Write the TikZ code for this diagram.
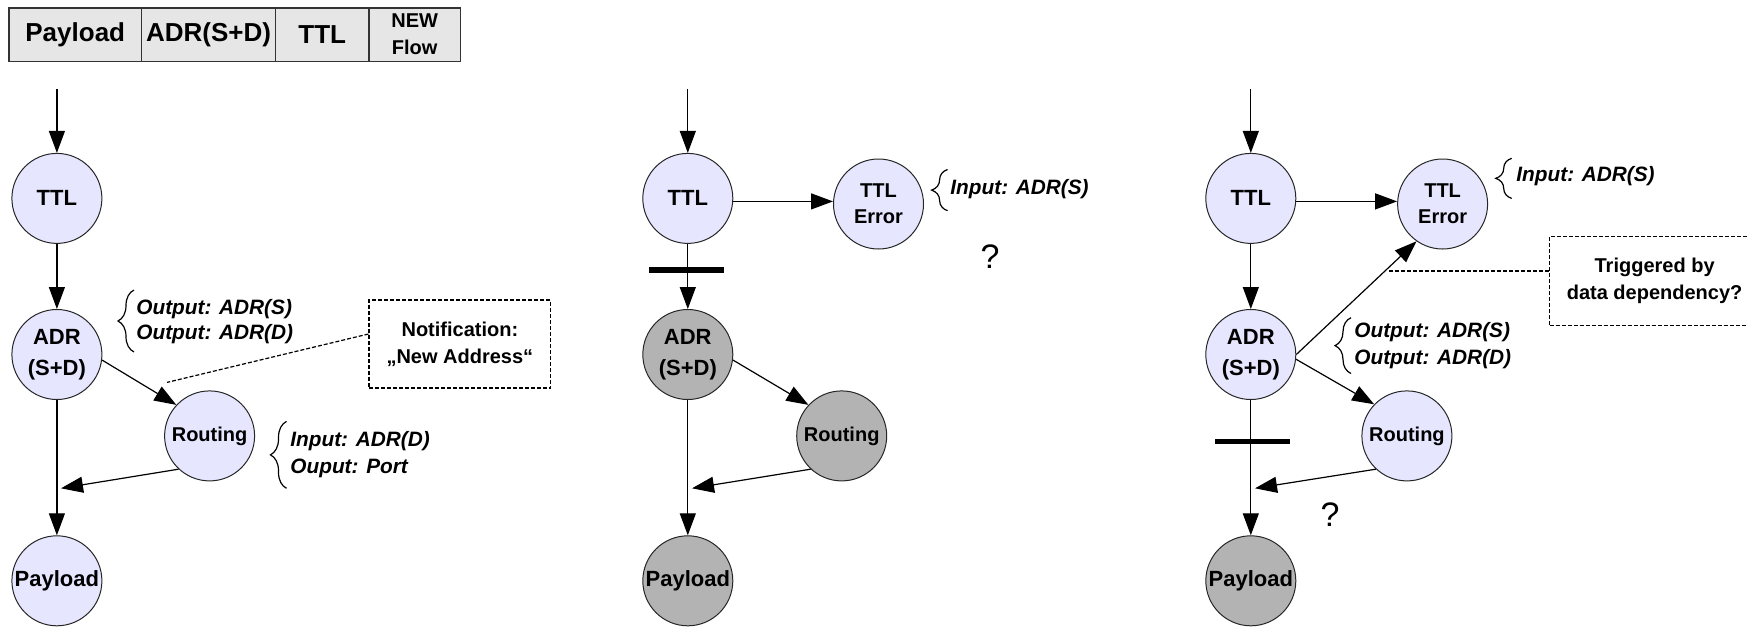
\documentclass[tikz,border=0pt]{standalone}
\usepackage{fontspec}
\setmainfont{Liberation Sans}
\usetikzlibrary{arrows.meta,decorations.pathreplacing}

\definecolor{stagefill}{RGB}{230,230,255}
\definecolor{stagegray}{RGB}{179,179,179}
\definecolor{headfill}{RGB}{230,230,230}

\tikzset{
  stage/.style={circle, draw=black!85, line width=0.5pt, fill=stagefill, minimum size=45pt, inner sep=0pt, align=center, font=\bfseries\fontsize{11}{15.5}\selectfont},
  stagedone/.style={stage, fill=stagegray},
  stagesmall/.style={font=\bfseries\fontsize{10}{13}\selectfont},
  stagepay/.style={font=\bfseries\fontsize{11}{13}\selectfont},
  flowarrow/.style={-{Triangle[length=11pt,width=8pt]}, line width=0.6pt},
  hintline/.style={dash pattern=on 2pt off 1pt, line width=0.6pt},
  notebox/.style={draw, hintline, align=center, inner sep=0pt, font=\bfseries\fontsize{10}{13.4}\selectfont},
  infotext/.style={anchor=west, align=left, inner sep=0pt, font=\bfseries\itshape\fontsize{10.4}{13.4}\selectfont},
  curlybrace/.style={decorate, decoration={brace, amplitude=8pt}, line width=0.6pt},
  cutbar/.style={line width=2.8pt},
  qmark/.style={font=\fontsize{17}{17}\selectfont},
  headcell/.style={rectangle, draw=black!80, fill=headfill, line width=0.75pt, minimum height=26.75pt, inner sep=0pt, outer sep=0pt, align=center, font=\bfseries\fontsize{13}{15}\selectfont}
}

\begin{document}
\begin{tikzpicture}[x=0.5pt,y=0.5pt,yscale=-1]
\useasboundingbox (0,0) rectangle (1748,627);
\clip (0,0) rectangle (1748,627);

% Header
\node[headcell, minimum width=66.35pt] (hPay) at (75.25,34.55) {Payload};
\node[headcell, minimum width=66.9pt] (hAdr) at (208.5,34.55) {ADR(S+D)};
\node[headcell, minimum width=46.8pt] (hTtl) at (322.2,34.55) {TTL};
\node[headcell, minimum width=45.7pt, font=\bfseries\fontsize{10}{13.4}\selectfont] (hNew) at (414.7,34.55) {NEW\\Flow};

% Left: normal flow
\coordinate (inL) at (56.9,89);
\node[stage] (ttlL) at (56.9,198.4) {TTL};
\node[stage] (adrL) at (56.9,354.5) {ADR\\(S+D)};
\node[stage, stagesmall] (routL) at (209.6,435.9) {Routing};
\node[stage, stagepay] (payL) at (56.9,580.8) {Payload};
\coordinate (joinL) at (61,488.3);
\coordinate (tipL) at (167,382.4);
\draw[flowarrow] (inL) -- (ttlL);
\draw[flowarrow] (ttlL) -- (adrL);
\draw[flowarrow] (adrL) -- (payL);
\draw[flowarrow] (adrL.-7) -- (routL.137);
\draw[flowarrow] (routL.-133) -- (joinL);
\draw[curlybrace] (134,352) -- (134,290);
\node[infotext, font=\bfseries\itshape\fontsize{10.4}{12.5}\selectfont] (outL) at (136,321.5) {Output: ADR(S)\\Output: ADR(D)};
\draw[curlybrace] (286.5,488.3) -- (286.5,421.4);
\node[infotext] (inRoutL) at (290,455) {Input: ADR(D)\\Ouput: Port};
\node[notebox, minimum width=90.85pt, minimum height=44pt] (notifL) at (459.9,344) {Notification:\\„New Address“};
\draw[hintline] ([yshift=-5pt]notifL.west) -- (tipL);

% Middle: TTL error
\coordinate (inM) at (687.8,89);
\node[stage] (ttlM) at (687.8,198.4) {TTL};
\node[stage, stagesmall] (errM) at (878.5,204) {TTL\\Error};
\node[stagedone] (adrM) at (687.8,354.5) {ADR\\(S+D)};
\node[stagedone, stagesmall] (routM) at (841.7,435.9) {Routing};
\node[stagedone, stagepay] (payM) at (687.8,580.8) {Payload};
\coordinate (joinM) at (692,488.3);
\draw[flowarrow] (inM) -- (ttlM);
\draw[flowarrow] (ttlM) -- (adrM);
\draw[cutbar] (648.8,269.8) -- (723.5,269.8);
\draw[flowarrow] ([yshift=1.5pt]ttlM.east) -- ([yshift=1.5pt]ttlM.east -| errM.west);
\draw[flowarrow] (adrM) -- (payM);
\draw[flowarrow] (adrM.-7) -- (routM.137);
\draw[flowarrow] (routM.-133) -- (joinM);
\draw[curlybrace] (947.6,210.7) -- (947.6,169.5);
\node[infotext] (inErrM) at (950,189.5) {Input: ADR(S)};
\node[qmark] (qM) at (990,256.4) {?};

% Right: data dependency
\coordinate (inR) at (1250.8,89);
\node[stage] (ttlR) at (1250.8,198.4) {TTL};
\node[stage, stagesmall] (errR) at (1442.6,204) {TTL\\Error};
\node[stage] (adrR) at (1250.8,354.5) {ADR\\(S+D)};
\node[stage, stagesmall] (routR) at (1406.9,435.9) {Routing};
\node[stagedone, stagepay] (payR) at (1250.8,580.8) {Payload};
\coordinate (joinR) at (1255,488.3);
\coordinate (tipR) at (1388,270.9);
\draw[flowarrow] (inR) -- (ttlR);
\draw[flowarrow] ([yshift=1.5pt]ttlR.east) -- ([yshift=1.5pt]ttlR.east -| errR.west);
\draw[flowarrow] (ttlR) -- (adrR);
\draw[flowarrow] (adrR.east) -- (errR.-125);
\draw[flowarrow] (adrR.-6) -- (routR.136);
\draw[flowarrow] (adrR) -- (payR);
\draw[cutbar] (1215.1,441.5) -- (1289.8,441.5);
\draw[flowarrow] (routR.-133) -- (joinR);
\draw[curlybrace] (1511.7,198.4) -- (1511.7,158.3);
\node[infotext] (inErrR) at (1516,176) {Input: ADR(S)};
\draw[curlybrace] (1351,373.5) -- (1351,317.7);
\node[infotext] (outR) at (1354,346) {Output: ADR(S)\\Output: ADR(D)};
\node[notebox, minimum width=105pt, minimum height=44.6pt] (trigR) at (1654.6,280.9) {Triggered by\\data dependency?};
\draw[hintline] ([yshift=-5pt]trigR.west) -- (tipR);
\node[qmark] (qR) at (1330,515) {?};
\end{tikzpicture}
\end{document}
